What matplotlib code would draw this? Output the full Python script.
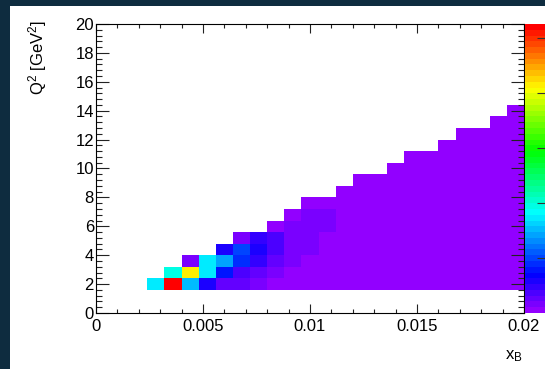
import colorsys
import numpy as np
import matplotlib
matplotlib.use("Agg")
from matplotlib import pyplot as plt
from matplotlib.colors import ListedColormap, Normalize
from matplotlib.patches import Rectangle

# histogram binning (ROOT TH2: 25 x 25 bins)
n_xbins, x_min, x_max = 25, 0.0, 0.02
n_ybins, y_min, y_max = 25, 0.0, 20.0

# first filled x bin and first filled y bin
first_xbin = 3
first_ybin = 2

# bin contents per x bin (from the lowest filled y bin upward)
counts = [
    [1700],
    [5250, 1990],
    [1530, 4190, 150],
    [610, 1750, 1720],
    [300, 790, 1450, 560],
    [250, 400, 900, 1000, 140],
    [150, 230, 450, 550, 480],
    [95, 150, 250, 320, 330, 100],
    [80, 100, 130, 170, 180, 150, 90],
    [70, 85, 100, 110, 120, 125, 115, 80],
    [65, 75, 90, 100, 100, 110, 115, 95],
    [60, 70, 80, 90, 95, 100, 100, 95, 80],
    [58, 65, 75, 82, 88, 92, 95, 98, 92, 78],
    [55, 62, 70, 78, 84, 88, 90, 94, 92, 75],
    [52, 58, 66, 72, 78, 82, 85, 88, 88, 82, 68],
    [50, 55, 62, 68, 72, 75, 80, 80, 84, 84, 78, 64],
    [48, 53, 58, 64, 67, 70, 72, 75, 78, 80, 75, 60],
    [45, 50, 55, 58, 62, 65, 68, 70, 72, 74, 75, 70, 55],
    [40, 45, 50, 54, 57, 60, 62, 64, 66, 68, 70, 70, 65, 50],
    [38, 42, 46, 50, 53, 56, 58, 60, 62, 64, 65, 66, 62, 48],
    [35, 38, 42, 46, 49, 52, 54, 56, 58, 60, 61, 62, 62, 58, 45],
    [32, 35, 38, 42, 45, 48, 50, 52, 54, 55, 56, 57, 58, 57, 52, 40],
]

x_ticks = [0, 0.005, 0.01, 0.015, 0.02]
x_ticklabels = ["0", "0.005", "0.01", "0.015", "0.02"]
y_ticks = [0, 2, 4, 6, 8, 10, 12, 14, 16, 18, 20]
y_ticklabels = [str(v) for v in y_ticks]
z_ticks = [1000, 2000, 3000, 4000, 5000]

W, H = 545, 369
navy = "#0e2c3f"

plt.rcParams["font.family"] = ["Liberation Sans", "DejaVu Sans"]
plt.rcParams["mathtext.fontset"] = "custom"
plt.rcParams["mathtext.rm"] = "Liberation Sans"
plt.rcParams["mathtext.it"] = "Liberation Sans"

# ROOT "pretty" palette (gStyle->SetPalette(1)), 50 colours
palette = [colorsys.hls_to_rgb((280 - (i + 1) * 5.6) / 360.0, 0.5, 1.0) for i in range(50)]
cmap = ListedColormap(palette)

z = np.full((n_ybins, n_xbins), np.nan)
for k, col in enumerate(counts):
    for m, v in enumerate(col):
        z[first_ybin + m, first_xbin + k] = v
z = np.ma.masked_invalid(z)

x_edges = np.linspace(x_min, x_max, n_xbins + 1)
y_edges = np.linspace(y_min, y_max, n_ybins + 1)


def px(x0, y0, x1, y1):
    """pixel box (top-left origin) -> figure fraction rect"""
    return [x0 / W, 1 - y1 / H, (x1 - x0) / W, (y1 - y0) / H]


fig = plt.figure(figsize=(W / 100, H / 100), dpi=100, facecolor=navy)
fig.patches.append(Rectangle((10 / W, 0), 1, 1 - 6 / H, transform=fig.transFigure,
                             facecolor="white", edgecolor="none", zorder=-10))

ax = fig.add_axes(px(96, 24, 524, 313))
norm = Normalize(vmin=0, vmax=np.max(z))
mesh = ax.pcolormesh(x_edges, y_edges, z, cmap=cmap, norm=norm,
                     linewidth=0, antialiased=False, edgecolors="face")
ax.set_xlim(x_min, x_max)
ax.set_ylim(y_min, y_max)

ax.set_xticks(x_ticks, x_ticklabels)
ax.set_yticks(y_ticks, y_ticklabels)
ax.set_xticks(np.arange(0, 0.0201, 0.001), minor=True)
ax.set_yticks(np.arange(0, 20.01, 0.4), minor=True)
ax.tick_params(which="both", direction="in", top=True, right=True,
               width=0.8, color="#222222", labelsize=12)
ax.tick_params(axis="x", which="major", length=6.3, pad=4)
ax.tick_params(axis="x", which="minor", length=3.1)
ax.tick_params(axis="y", which="major", length=9.2, pad=1.5)
ax.tick_params(axis="y", which="minor", length=4.6)
for s in ax.spines.values():
    s.set_linewidth(0.8)

cax = fig.add_axes(px(525, 24, 549, 313))
cb = fig.colorbar(mesh, cax=cax)
cb.outline.set_visible(False)
cb.set_ticks(z_ticks)
cax.tick_params(direction="in", length=9, width=0.8, color="#333333",
                labelright=False)

fig.text(38 / W, 1 - 20 / H, r"Q$^{2}$ [GeV$^{2}$]", rotation=90,
         ha="center", va="top", fontsize=12)
fig.text(523 / W, 1 - 359 / H, r"x$_{\rm B}$", ha="right", va="baseline",
         fontsize=12)

fig.savefig("out.png", dpi=100, facecolor=navy)
